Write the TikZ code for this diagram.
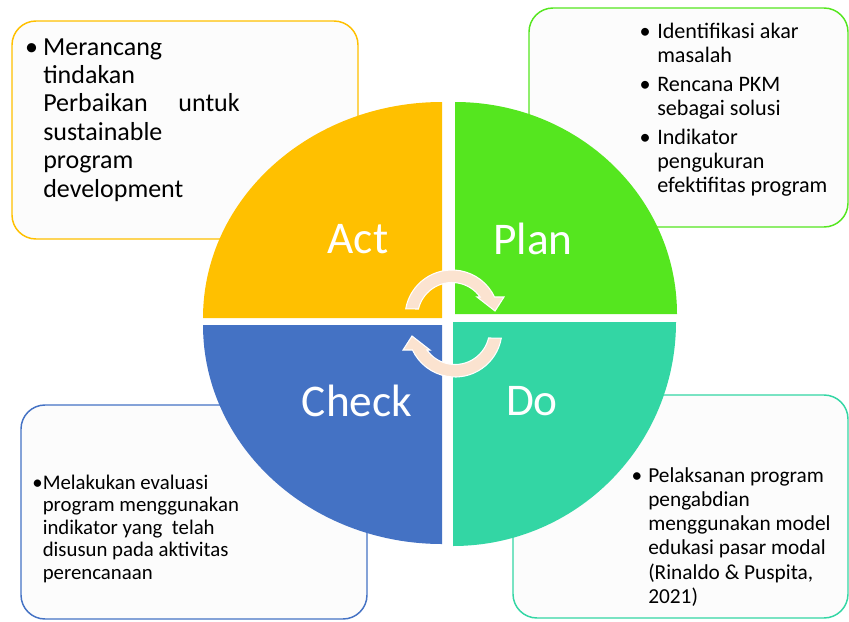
\documentclass[tikz,border=0pt]{standalone}
\usepackage{fontspec}
\setmainfont{Carlito}
\definecolor{actc}{HTML}{FFC000}
\definecolor{planc}{HTML}{55E61F}
\definecolor{doc}{HTML}{33D6A4}
\definecolor{chkc}{HTML}{4472C4}
\definecolor{peach}{HTML}{FBE3D0}
\newcommand{\itm}[1]{\llap{\textbullet\hspace{#1}}}
\tikzset{
  box/.style={rounded corners=18pt, line width=1.1pt, fill=white!99!black},
  lbl/.style={text=white, inner sep=0, font=\fontsize{34}{40}\selectfont},
  txt/.style={inner sep=0, anchor=base west},
  cyc/.style={fill=peach, draw=white, line width=0.8pt}
}
\begin{document}
\begin{tikzpicture}[x=0.75pt,y=0.75pt]
\useasboundingbox (0,0) rectangle (849,-621);
\draw[box,draw=actc] (12,-21) rectangle (358,-239);
\draw[box,draw=planc] (529,-8) rectangle (848,-227);
\draw[box,draw=chkc] (21,-405) rectangle (367,-619);
\draw[box,draw=doc] (513,-395) rectangle (848,-618);

\fill[actc] (442,-318) -- (203,-318) arc[start angle=180, end angle=90, x radius=239, y radius=216] -- cycle;
\fill[planc] (455,-314) -- (455,-102) arc[start angle=90, end angle=0, x radius=222, y radius=212] -- cycle;
\fill[chkc] (442,-325) -- (442,-544) arc[start angle=270, end angle=180, x radius=239, y radius=219] -- cycle;
\fill[doc] (453,-322) -- (676,-322) arc[start angle=0, end angle=-90, x radius=223, y radius=224] -- cycle;

\node[lbl] (act) at (358,-239) {Act};
\node[lbl] (plan) at (533,-239) {Plan};
\node[lbl] (check) at (357,-401) {Check};
\node[lbl] (do) at (532,-401) {Do};

\begin{scope}[shift={(452,-317)}]
\draw[cyc] (170:47) arc[start angle=170, end angle=25.2, radius=47] -- (52,20) -- (43,6) -- (25,20)
  -- (35.4:34.5) arc[start angle=35.4, end angle=166.6, radius=34.5] -- cycle;
\end{scope}
\begin{scope}[shift={(455,-330)},rotate=180]
\draw[cyc] (170:47) arc[start angle=170, end angle=25.2, radius=47] -- (52,20) -- (43,6) -- (25,20)
  -- (35.4:34.5) arc[start angle=35.4, end angle=166.6, radius=34.5] -- cycle;
\end{scope}

\node[txt,font=\fontsize{19.5}{21.3}\selectfont] (acttxt) at (43,-55)
  {\begin{tabular}[t]{@{}l@{}}
   \itm{3.9pt}Merancang\\ tindakan\\ Perbaikan\hspace{23pt}untuk\\ sustainable\\ program\\ development
   \end{tabular}};
\node[txt,font=\fontsize{16.6}{18}\selectfont] (plantxt) at (657,-38)
  {\begin{tabular}[t]{@{}l@{}}
   \itm{4.9pt}Identifikasi akar\\ masalah\\[4pt]
   \itm{4.9pt}Rencana PKM\\ sebagai solusi\\[4pt]
   \itm{4.9pt}Indikator\\ pengukuran\\ efektifitas program
   \end{tabular}};
\node[txt,font=\fontsize{15.6}{16.9}\selectfont] (chktxt) at (42.5,-489)
  {\begin{tabular}[t]{@{}l@{}}
   \itm{0pt}Melakukan evaluasi\\ program menggunakan\\ indikator yang\ \ telah\\ disusun pada aktivitas\\ perencanaan
   \end{tabular}};
\node[txt,font=\fontsize{16}{18.2}\selectfont] (dotxt) at (648,-482)
  {\begin{tabular}[t]{@{}l@{}}
   \itm{4.6pt}Pelaksanan program\\ pengabdian\\ menggunakan model\\ edukasi pasar modal\\ (Rinaldo \& Puspita,\\ 2021)
   \end{tabular}};
\end{tikzpicture}
\end{document}
